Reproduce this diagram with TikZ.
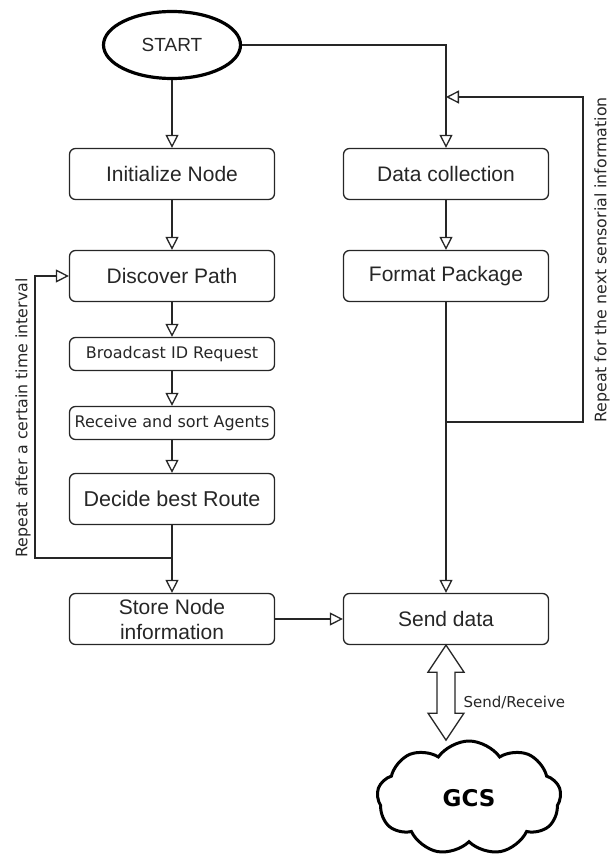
\documentclass[tikz,border=0pt]{standalone}
\usepackage{fontspec}
\setmainfont{Liberation Sans}
\newfontfamily\dejavu{DejaVu Sans}
\usetikzlibrary{arrows.meta,shapes.geometric,shapes.symbols}
\begin{document}
\begin{tikzpicture}[x=1pt,y=1pt,
 proc/.style={draw=black!85,line width=1.3pt,rounded corners=6pt,minimum width=205pt,minimum height=51pt,inner sep=2pt,align=center,text=black!85,font=\fontsize{21}{25}\selectfont},
 thin proc/.style={proc,minimum height=33pt,font=\dejavu\fontsize{16}{19}\selectfont},
 flow/.style={draw=black!85,line width=1.3pt,-{Triangle[open,length=13pt,width=13pt]}},
 line/.style={draw=black!85,line width=1.3pt},
 side text/.style={rotate=90,text=black!85,font=\dejavu\fontsize{15.8}{18}\selectfont}]
 \useasboundingbox (0,0) rectangle (611,-858);
 \node (start) at (172,-45) [shape=ellipse,draw=black,line width=3.2pt,minimum width=137pt,minimum height=67pt,inner sep=0pt,text=black!85,font=\fontsize{19}{22}\selectfont] {START};
 \node (init) at (172,-174) [proc] {Initialize Node};
 \node (collect) at (446,-174) [proc] {Data collection};
 \node (discover) at (172,-276) [proc] {Discover Path};
 \node (format) at (446,-276) [proc] {Format Package};
 \node (bcast) at (172,-354) [thin proc] {Broadcast ID Request};
 \node (sort) at (172,-423) [thin proc] {Receive and sort Agents};
 \node (route) at (172,-499) [proc,font=\fontsize{21.5}{25}\selectfont] {Decide best Route};
 \node (store) at (172,-619) [proc] {Store Node\\information};
 \node (send) at (446,-619) [proc] {Send data};
 \node (gcs) at (469,-798) [cloud,draw=black,line width=3pt,cloud puffs=9,cloud puff arc=110,aspect=1.6,minimum width=184pt,minimum height=114pt,inner sep=0pt,font=\dejavu\bfseries\fontsize{23}{27}\selectfont] {GCS};
 \node (loop label) at (23,-418) [side text] {Repeat after a certain time interval};
 \node (fb label) at (602,-260) [side text] {Repeat for the next sensorial information};
 \node (sr label) at (460,-702) [anchor=west,text=black!85,font=\dejavu\fontsize{15}{18}\selectfont] {Send/Receive};
 \coordinate (loop join) at (172,-558);
 \coordinate (loop corner) at (35,-558);
 \coordinate (fb join) at (446,-422);
 \coordinate (fb corner) at (583,-422);
 \coordinate (fb in) at (446,-97);
 % left column
 \draw[flow] (start) -- (init);
 \draw[flow] (init) -- (discover);
 \draw[flow] (discover) -- (bcast);
 \draw[flow] (bcast) -- (sort);
 \draw[flow] (sort) -- (route);
 \draw[flow] (route) -- (store);
 \draw[flow] (loop join) -- (loop corner) |- (discover);
 % right column
 \draw[flow] (start) -| (collect);
 \draw[flow] (collect) -- (format);
 \draw[flow] (format) -- (send);
 \draw[flow] (fb join) -- (fb corner) |- (fb in);
 \draw[flow] (store) -- (send);
 % link to ground station
 \draw[line,fill=white] (send.south) -- ++(18,-27) -- ++(-9,0) -- ++(0,-41) -- ++(9,0) -- ++(-18,-27) -- ++(-18,27) -- ++(9,0) -- ++(0,41) -- ++(-9,0) -- cycle;
\end{tikzpicture}
\end{document}
